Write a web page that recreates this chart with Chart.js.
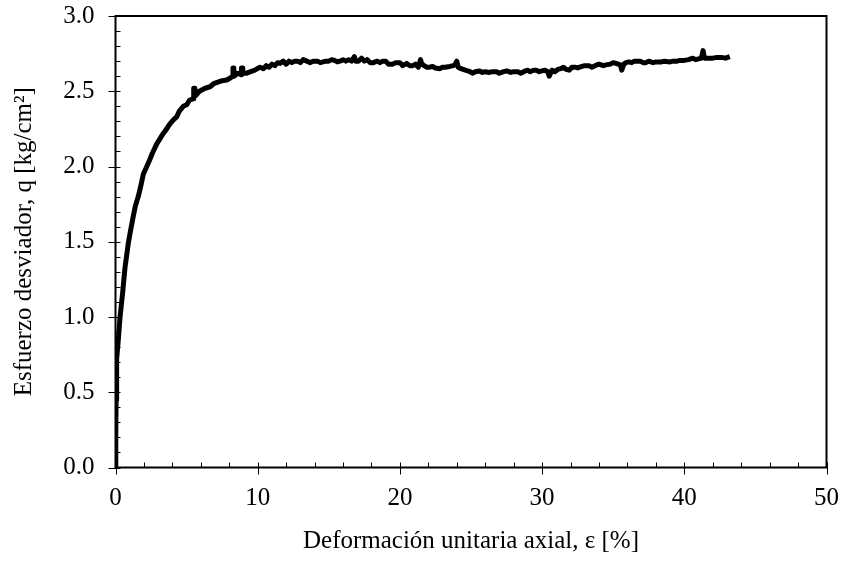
<!DOCTYPE html>
<html>
<head>
<meta charset="utf-8">
<script src="https://cdn.jsdelivr.net/npm/chart.js@4/dist/chart.umd.min.js"></script>
<style>
  html, body { margin: 0; padding: 0; background: #ffffff; }
  #wrap { width: 844px; height: 562px; }
</style>
</head>
<body>
<div id="wrap"><canvas id="triaxialChart" width="844" height="562"></canvas></div>
<script>
// axial strain (%) and deviator stress (kg/cm2)
var strainPct = [
  0, 0.02, 0.04, 0.06, 0.1, 0.2, 0.32, 0.5, 0.67, 0.8, 0.9, 1.05, 1.25, 1.4, 1.6, 1.8, 1.96,
  2.2, 2.43, 2.6, 2.9, 3.1, 3.36, 3.6, 3.8, 4.07, 4.3, 4.5, 4.77, 5.0, 5.2, 5.47, 5.5, 5.58, 5.62,
  5.9, 6.1, 6.3, 6.65, 6.9, 7.2, 7.5, 7.82, 8.1, 8.24, 8.26, 8.32, 8.35, 8.6, 8.84, 8.86, 8.92, 8.95, 9.23,
  9.5, 9.8, 10.16, 10.4, 10.6, 10.8, 11.0, 11.2, 11.4, 11.57, 11.8, 12.0, 12.2, 12.4, 12.6, 12.8,
  13.0, 13.2, 13.45, 13.7, 13.9, 14.2, 14.4, 14.6, 14.8, 15.0, 15.2, 15.4, 15.6, 15.79, 16.0,
  16.2, 16.4, 16.6, 16.8, 16.9, 17.1, 17.3, 17.5, 17.7, 17.9, 18.13, 18.4, 18.6, 18.8, 19.0,
  19.2, 19.5, 19.7, 20.0, 20.2, 20.48, 20.7, 20.9, 21.1, 21.3, 21.45, 21.55, 21.7, 21.9, 22.1,
  22.3, 22.5, 22.82, 23.0, 23.2, 23.5, 23.76, 23.9, 24.0, 24.1, 24.3, 24.6, 24.93, 25.1, 25.3,
  25.6, 25.8, 26.0, 26.3, 26.5, 26.8, 27.0, 27.3, 27.5, 27.8, 28.0, 28.3, 28.5, 28.8, 29.0,
  29.15, 29.4, 29.6, 29.8, 30.0, 30.2, 30.4, 30.5, 30.7, 30.9, 31.1, 31.3, 31.5, 31.7, 31.9,
  32.1, 32.3, 32.5, 32.8, 33.0, 33.3, 33.5, 33.84, 34.0, 34.3, 34.5, 34.8, 35.0, 35.2, 35.5,
  35.6, 35.75, 35.9, 36.1, 36.3, 36.5, 36.9, 37.1, 37.3, 37.5, 37.8, 38.0, 38.4, 38.6, 39.0,
  39.2, 39.5, 39.7, 40.0, 40.3, 40.6, 40.8, 41.0, 41.2, 41.32, 41.36, 41.42, 41.7, 42.0, 42.3,
  42.6, 42.9, 43.2
];
var deviatorStress = [
  0, 0.2, 0.45, 0.6, 0.72, 0.85, 1.0, 1.16, 1.33, 1.42, 1.49, 1.57, 1.67, 1.74, 1.80, 1.88, 1.95,
  2.00, 2.05, 2.09, 2.15, 2.18, 2.22, 2.25, 2.28, 2.31, 2.33, 2.37, 2.40, 2.41, 2.44, 2.45, 2.52, 2.52, 2.47,
  2.50, 2.51, 2.52, 2.53, 2.55, 2.56, 2.57, 2.575, 2.59, 2.60, 2.655, 2.655, 2.60, 2.62, 2.61, 2.655, 2.655, 2.62, 2.62,
  2.63, 2.64, 2.66, 2.65, 2.67, 2.66, 2.68, 2.67, 2.69, 2.685, 2.70, 2.68, 2.70, 2.69, 2.70, 2.70,
  2.69, 2.71, 2.70, 2.69, 2.70, 2.70, 2.69, 2.695, 2.70, 2.70, 2.71, 2.705, 2.695, 2.70, 2.71,
  2.70, 2.71, 2.70, 2.73, 2.70, 2.70, 2.72, 2.70, 2.71, 2.69, 2.69, 2.70, 2.69, 2.70, 2.70,
  2.68, 2.68, 2.69, 2.69, 2.67, 2.685, 2.67, 2.67, 2.68, 2.66, 2.71, 2.68, 2.67, 2.66, 2.66,
  2.665, 2.655, 2.65, 2.66, 2.66, 2.665, 2.67, 2.68, 2.70, 2.66, 2.65, 2.64, 2.63, 2.62, 2.63,
  2.635, 2.625, 2.63, 2.625, 2.63, 2.63, 2.62, 2.63, 2.635, 2.625, 2.63, 2.63, 2.62, 2.635, 2.64,
  2.63, 2.64, 2.64, 2.63, 2.635, 2.64, 2.63, 2.60, 2.64, 2.63, 2.645, 2.65, 2.66, 2.645, 2.64,
  2.66, 2.66, 2.655, 2.665, 2.67, 2.67, 2.66, 2.675, 2.68, 2.67, 2.675, 2.68, 2.69, 2.685, 2.675,
  2.64, 2.68, 2.69, 2.695, 2.69, 2.70, 2.70, 2.69, 2.69, 2.70, 2.69, 2.695, 2.695, 2.70, 2.695,
  2.70, 2.70, 2.705, 2.705, 2.71, 2.72, 2.71, 2.715, 2.72, 2.77, 2.77, 2.72, 2.72, 2.72, 2.725,
  2.725, 2.72, 2.73
];
var xTicks = [0, 10, 20, 30, 40, 50];
var yTicks = [0, 0.5, 1.0, 1.5, 2.0, 2.5, 3.0];

var serif = "'Liberation Serif', 'Times New Roman', serif";

// frame + tick marks (major out/through, minor inward) like the original plot
var axisMarks = {
  id: 'axisMarks',
  afterDraw: function (chart) {
    var c = chart.ctx, a = chart.chartArea;
    var xs = chart.scales.x, ys = chart.scales.y;
    c.save();
    c.strokeStyle = '#000';
    c.lineWidth = 1;
    var v, p;
    for (v = 0; v <= 50; v += 2) {
      p = Math.round(xs.getPixelForValue(v)) + 0.5;
      c.beginPath();
      if (v % 10 === 0) { c.moveTo(p, a.bottom - 5); c.lineTo(p, a.bottom + 7); }
      else { c.moveTo(p, a.bottom); c.lineTo(p, a.bottom - 5); }
      c.stroke();
    }
    for (v = 0; v <= 30; v += 1) {
      p = Math.round(ys.getPixelForValue(v / 10)) + 0.5;
      c.beginPath();
      if (v % 5 === 0) { c.moveTo(a.left - 7, p); c.lineTo(a.left + 5, p); }
      else { c.moveTo(a.left, p); c.lineTo(a.left + 5, p); }
      c.stroke();
    }
    c.lineWidth = 2;
    c.strokeRect(a.left, a.top, a.right - a.left, a.bottom - a.top);
    c.restore();
  }
};

new Chart(document.getElementById('triaxialChart').getContext('2d'), {
  type: 'scatter',
  data: {
    datasets: [{
      data: strainPct.map(function (x, i) { return { x: x, y: deviatorStress[i] }; }),
      showLine: true,
      borderColor: '#000',
      borderWidth: 5,
      borderJoinStyle: 'round',
      pointRadius: 0,
      tension: 0
    }]
  },
  options: {
    responsive: false,
    animation: false,
    layout: { padding: { top: 16, right: 17.5, left: 0, bottom: 0 } },
    plugins: { legend: { display: false }, tooltip: { enabled: false } },
    scales: {
      x: {
        type: 'linear', min: 0, max: 50,
        afterBuildTicks: function (s) { s.ticks = xTicks.map(function (v) { return { value: v }; }); },
        afterFit: function (s) {
          s.height = 94.5;
          s.paddingLeft = 0; s.paddingRight = 0;
        },
        grid: { display: false, drawTicks: false },
        border: { display: false },
        ticks: { color: '#000', padding: 16, font: { family: serif, size: 25 }, maxRotation: 0 },
        title: { display: true, text: 'Deformación unitaria axial, ε [%]', color: '#000',
                 font: { family: serif, size: 25 }, padding: { bottom: 6 } }
      },
      y: {
        type: 'linear', min: 0, max: 3,
        afterBuildTicks: function (s) { s.ticks = yTicks.map(function (v) { return { value: v }; }); },
        afterFit: function (s) {
          s.width = 115.5;
          s.paddingTop = 0; s.paddingBottom = 0;
        },
        grid: { display: false, drawTicks: false },
        border: { display: false },
        ticks: { color: '#000', padding: 21, font: { family: serif, size: 25 },
                 callback: function (v) { return v.toFixed(1); } },
        title: { display: true, text: 'Esfuerzo desviador, q [kg/cm²]', color: '#000',
                 font: { family: serif, size: 25 }, padding: { top: 9 } }
      }
    }
  },
  plugins: [axisMarks]
});
</script>
</body>
</html>
